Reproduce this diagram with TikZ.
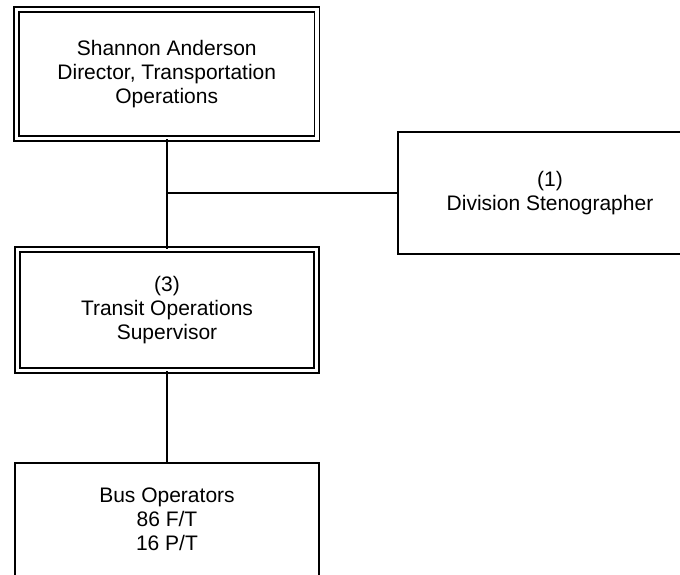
\documentclass[tikz,border=0pt]{standalone}
\usepackage{fontspec}
\setmainfont{Liberation Sans}
\begin{document}
\begin{tikzpicture}[x=1pt,y=-1pt,
  box/.style={draw, line width=1.3pt, inner sep=0pt, align=center,
    font=\fontsize{21}{24}\selectfont},
  dbox/.style={box, double, double distance=3.7pt},
  link/.style={line width=1.5pt}]
\useasboundingbox (0,0) rectangle (680,574);
\clip (0,0) rectangle (680,574);
\fill[white] (0,0) rectangle (680,574);
\node[dbox, minimum width=300.5pt, minimum height=129pt] (dir) at (166.75,74)
  {Shannon Anderson\\Director, Transportation\\Operations};
\node[dbox, minimum width=299pt, minimum height=121pt] (sup) at (167,310)
  {(3)\\Transit Operations\\Supervisor};
\node[box, minimum width=304pt, minimum height=124pt, text depth=0pt] (bus) at (167,525)
  {};
\node[align=center, inner sep=0pt, font=\fontsize{21}{24}\selectfont] (bustext) at (167,519)
  {Bus Operators\\86 F/T\\16 P/T};
\node[box, minimum width=304pt, minimum height=122pt] (steno) at (550,193)
  {(1)\\Division Stenographer};
\coordinate (j) at (167,193);
\draw[link] (dir.south -| j) -- (sup.north -| j);
\draw[link] (j) -- (steno.west);
\draw[link] (sup.south -| j) -- (bus.north -| j);
\end{tikzpicture}
\end{document}
